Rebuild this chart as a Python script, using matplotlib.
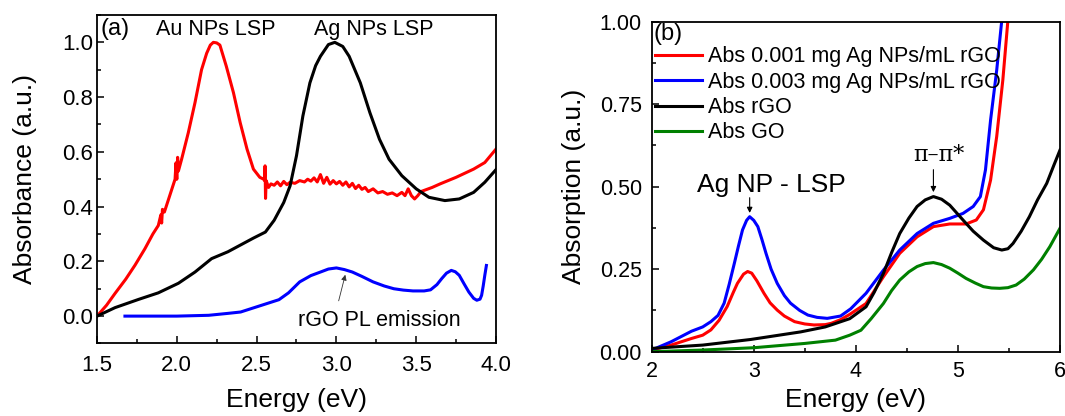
import matplotlib.pyplot as plt
from matplotlib.ticker import MultipleLocator, FormatStrFormatter

plt.rcParams['font.family'] = ['Liberation Sans', 'DejaVu Sans']

# panel (a): normalised absorbance of Au / Ag NPs and rGO PL
au_e = [1.5, 1.56, 1.613, 1.68, 1.738, 1.8, 1.85, 1.884, 1.9, 1.905, 1.91, 1.922, 1.95, 1.989,
        1.995, 2.0, 2.005, 2.01, 2.03, 2.072, 2.114, 2.155, 2.187, 2.21, 2.229, 2.25, 2.27, 2.31,
        2.355, 2.397, 2.44, 2.48, 2.52, 2.545, 2.55, 2.553, 2.556, 2.56, 2.575, 2.59,
        2.61, 2.63, 2.65, 2.67, 2.69, 2.71, 2.74, 2.77, 2.8, 2.82, 2.84, 2.86, 2.88, 2.9, 2.92,
        2.94, 2.96, 2.98, 3.0, 3.02, 3.04, 3.06, 3.08, 3.1, 3.12, 3.14, 3.16, 3.18, 3.2, 3.23,
        3.26, 3.29, 3.32, 3.35, 3.38, 3.41, 3.43, 3.45, 3.47, 3.49, 3.51, 3.53, 3.6, 3.65, 3.75,
        3.86, 3.93, 4.0]
au_a = [0.0, 0.04, 0.083, 0.135, 0.186, 0.246, 0.3, 0.331, 0.37, 0.34, 0.39, 0.38, 0.43, 0.5,
        0.56, 0.5, 0.58, 0.53, 0.573, 0.67, 0.78, 0.9, 0.96, 0.99, 1.0, 0.998, 0.99, 0.913,
        0.816, 0.707, 0.61, 0.537, 0.507, 0.5, 0.495, 0.549, 0.43, 0.495, 0.47, 0.483,
        0.478, 0.49, 0.476, 0.492, 0.48, 0.489, 0.485, 0.495, 0.49, 0.5, 0.493, 0.505, 0.49, 0.517, 0.485,
        0.507, 0.482, 0.495, 0.483, 0.492, 0.478, 0.49, 0.472, 0.485, 0.466, 0.478, 0.463, 0.47, 0.455, 0.465,
        0.45, 0.455, 0.445, 0.45, 0.44, 0.452, 0.44, 0.465, 0.44, 0.428, 0.44, 0.455, 0.47, 0.483, 0.507,
        0.537, 0.561, 0.61]

ag_e = [1.5, 1.613, 1.76, 1.884, 2.01, 2.114, 2.218, 2.32, 2.4, 2.48, 2.555, 2.61, 2.67, 2.71,
        2.75, 2.79, 2.834, 2.87, 2.9, 2.95, 2.99, 3.04, 3.08, 3.15, 3.21, 3.27, 3.33, 3.41, 3.5,
        3.58, 3.68, 3.77, 3.86, 3.93, 4.0]
ag_a = [0.0, 0.031, 0.061, 0.085, 0.12, 0.161, 0.21, 0.235, 0.26, 0.285, 0.307, 0.35, 0.415, 0.476,
        0.586, 0.731, 0.852, 0.915, 0.949, 0.992, 1.0, 0.985, 0.949, 0.852, 0.743, 0.646, 0.573, 0.513, 0.465,
        0.434, 0.422, 0.428, 0.452, 0.489, 0.535]

pl_e = [1.675, 2.0, 2.2, 2.32, 2.4, 2.48, 2.56, 2.64, 2.7, 2.77, 2.84, 2.9, 2.95, 3.0, 3.05, 3.1,
        3.16, 3.23, 3.3, 3.36, 3.42, 3.48, 3.55, 3.59, 3.63, 3.66, 3.69, 3.72, 3.745, 3.77, 3.8,
        3.83, 3.86, 3.88, 3.9, 3.91, 3.92, 3.93, 3.94]
pl_a = [0.0, 0.0, 0.003, 0.01, 0.015, 0.03, 0.045, 0.06, 0.085, 0.125, 0.148, 0.161, 0.172, 0.176, 0.17, 0.161,
        0.145, 0.125, 0.11, 0.1, 0.095, 0.092, 0.092, 0.096, 0.115, 0.137, 0.157, 0.167, 0.162, 0.149, 0.118,
        0.088, 0.065, 0.058, 0.062, 0.076, 0.11, 0.149, 0.185]

# panel (b): absorption spectra
e_001 = [2.0, 2.19, 2.39, 2.5, 2.58, 2.66, 2.74, 2.8, 2.84, 2.9, 2.94, 2.98, 3.03, 3.1, 3.16,
         3.23, 3.3, 3.4, 3.5, 3.59, 3.7, 3.76, 3.85, 3.94, 4.1, 4.27, 4.43, 4.6, 4.76, 4.92,
         5.08, 5.18, 5.25, 5.32, 5.38, 5.44, 5.49, 5.52]
abs_001 = [0.005, 0.02, 0.04, 0.05, 0.066, 0.095, 0.137, 0.18, 0.207, 0.235, 0.243, 0.238, 0.215, 0.177, 0.148,
           0.126, 0.108, 0.091, 0.084, 0.081, 0.082, 0.086, 0.097, 0.113, 0.146, 0.227, 0.298, 0.348, 0.379, 0.387,
           0.387, 0.399, 0.43, 0.52, 0.652, 0.823, 1.005, 1.1]

e_003 = [2.0, 2.19, 2.39, 2.5, 2.58, 2.65, 2.71, 2.76, 2.81, 2.85, 2.89, 2.93, 2.96, 3.0, 3.04,
         3.08, 3.12, 3.17, 3.23, 3.3, 3.36, 3.45, 3.53, 3.62, 3.72, 3.85, 3.95, 4.1, 4.27, 4.43,
         4.6, 4.76, 4.92, 5.05, 5.15, 5.22, 5.27, 5.32, 5.38, 5.43, 5.46]
abs_003 = [0.005, 0.03, 0.062, 0.075, 0.091, 0.11, 0.147, 0.205, 0.268, 0.32, 0.369, 0.398, 0.409, 0.398, 0.379,
           0.34, 0.298, 0.25, 0.207, 0.17, 0.147, 0.125, 0.111, 0.104, 0.101, 0.108, 0.13, 0.177, 0.247, 0.308,
           0.358, 0.389, 0.404, 0.419, 0.44, 0.47, 0.551, 0.702, 0.853, 1.005, 1.1]

rgo_e = [2.0, 2.5, 2.97, 3.46, 3.7, 3.94, 4.1, 4.18, 4.27, 4.35, 4.43, 4.52, 4.6, 4.68, 4.76,
         4.84, 4.92, 5.05, 5.15, 5.25, 5.35, 5.43, 5.49, 5.54, 5.62, 5.7, 5.78, 5.87, 5.94, 6.0]
rgo_a = [0.01, 0.02, 0.037, 0.06, 0.075, 0.1, 0.136, 0.18, 0.237, 0.3, 0.358, 0.405, 0.44, 0.46, 0.47,
         0.462, 0.444, 0.399, 0.365, 0.338, 0.315, 0.308, 0.312, 0.328, 0.365, 0.409, 0.46, 0.51, 0.565, 0.611]

go_e = [2.0, 2.5, 3.0, 3.5, 3.8, 3.94, 4.05, 4.15, 4.27, 4.35, 4.43, 4.52, 4.6, 4.68, 4.76,
        4.84, 4.92, 5.0, 5.08, 5.17, 5.25, 5.33, 5.41, 5.49, 5.57, 5.65, 5.74, 5.82, 5.9, 6.0]
go_a = [0.0, 0.005, 0.012, 0.025, 0.035, 0.05, 0.065, 0.1, 0.146, 0.185, 0.217, 0.242, 0.258, 0.267, 0.27,
        0.264, 0.253, 0.238, 0.222, 0.208, 0.197, 0.193, 0.192, 0.194, 0.202, 0.22, 0.248, 0.28, 0.318, 0.374]

fig = plt.figure(figsize=(10.65, 4.16), dpi=100)
ax1 = fig.add_axes([0.0911, 0.1743, 0.3746, 0.7897])
ax2 = fig.add_axes([0.6119, 0.1546, 0.3834, 0.7933])

lw = 2.2
ax1.plot(au_e, au_a, color="#ff0000", lw=lw)
ax1.plot(ag_e, ag_a, color="black", lw=lw)
ax1.plot(pl_e, pl_a, color="#0000ff", lw=lw)
ax1.set(xlim=(1.5, 4.0), ylim=(-0.1, 1.1))
ax1.xaxis.set_major_locator(MultipleLocator(0.5))
ax1.xaxis.set_minor_locator(MultipleLocator(0.25))
ax1.yaxis.set_major_locator(MultipleLocator(0.2))
ax1.yaxis.set_minor_locator(MultipleLocator(0.1))
ax1.xaxis.set_major_formatter(FormatStrFormatter("%.1f"))
ax1.yaxis.set_major_formatter(FormatStrFormatter("%.1f"))
ax1.set_xlabel("Energy (eV)", fontsize=19, labelpad=9)
ax1.set_ylabel("Absorbance (a.u.)", fontsize=19, labelpad=18)
ax1.text(1.52, 1.09, "(a)", fontsize=17, va="top")
ax1.text(2.245, 1.046, "Au NPs LSP", fontsize=15.5, ha="center", va="center")
ax1.text(3.235, 1.046, "Ag NPs LSP", fontsize=15.5, ha="center", va="center")
ax1.annotate("", xy=(3.06, 0.161), xytext=(3.01, 0.046),
             arrowprops=dict(arrowstyle="-|>", color="#333333", lw=0.6, mutation_scale=8))
ax1.text(3.27, -0.015, "rGO PL emission", fontsize=15.5, ha="center", va="center")

ax2.plot(e_001, abs_001, color="#ff0000", lw=lw, label="Abs 0.001 mg Ag NPs/mL rGO")
ax2.plot(e_003, abs_003, color="#0000ff", lw=lw, label="Abs 0.003 mg Ag NPs/mL rGO")
ax2.plot(rgo_e, rgo_a, color="black", lw=lw, label="Abs rGO")
ax2.plot(go_e, go_a, color="#008000", lw=lw, label="Abs GO")
ax2.set(xlim=(2, 6), ylim=(0, 1.0))
ax2.xaxis.set_major_locator(MultipleLocator(1))
ax2.xaxis.set_minor_locator(MultipleLocator(0.5))
ax2.yaxis.set_major_locator(MultipleLocator(0.25))
ax2.yaxis.set_minor_locator(MultipleLocator(0.125))
ax2.yaxis.set_major_formatter(FormatStrFormatter("%.2f"))
ax2.set_xlabel("Energy (eV)", fontsize=19, labelpad=4)
ax2.set_ylabel("Absorption (a.u.)", fontsize=19, labelpad=10)
ax2.text(2.02, 0.995, "(b)", fontsize=17, va="top")
ax2.legend(loc="upper left", bbox_to_anchor=(0.008, 0.925), frameon=False, fontsize=15.5,
           handlelength=2.2, handletextpad=0.25, labelspacing=0.2, borderpad=0, borderaxespad=0)
ax2.annotate("", xy=(2.96, 0.412), xytext=(2.96, 0.475),
             arrowprops=dict(arrowstyle="-|>", color="black", lw=0.8, mutation_scale=8))
ax2.text(3.175, 0.505, "Ag NP - LSP", fontsize=19, ha="center", va="center")
ax2.annotate("", xy=(4.76, 0.475), xytext=(4.76, 0.56),
             arrowprops=dict(arrowstyle="-|>", color="black", lw=0.8, mutation_scale=8))
ax2.text(4.81, 0.596, "π–π*", fontsize=16, ha="center", va="center", family="DejaVu Serif")

ax1.tick_params(which="both", labelsize=16)
ax1.tick_params(axis="x", pad=8)
ax1.tick_params(axis="y", pad=3)
ax2.tick_params(which="both", labelsize=15.5)
ax2.tick_params(axis="x", pad=7)
ax2.tick_params(axis="y", pad=7)
for ax in (ax1, ax2):
    ax.tick_params(which="both", direction="in", top=False, right=False)
    ax.tick_params(which="major", length=5, width=1.1)
    ax.tick_params(which="minor", length=3, width=1.1)
    for s in ax.spines.values():
        s.set_linewidth(1.3)

fig.savefig("out.png", dpi=100)
